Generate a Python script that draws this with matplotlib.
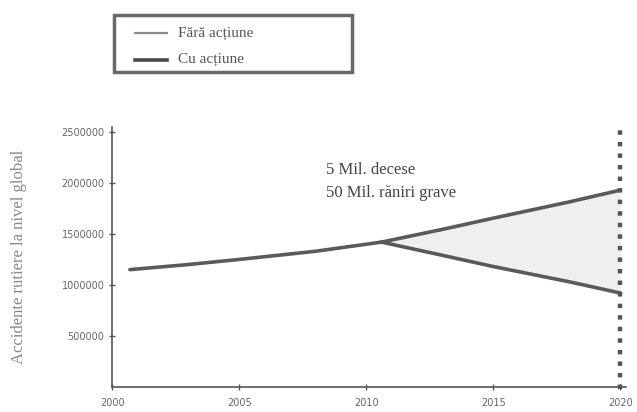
import matplotlib
matplotlib.use("Agg")
import matplotlib.pyplot as plt
from matplotlib.lines import Line2D
from matplotlib.patches import Rectangle

# accidente rutiere la nivel global
years_common = [2000.7, 2003, 2005, 2008, 2010.6]
vals_common = [1150000, 1200000, 1250000, 1330000, 1420000]

years_future = [2010.6, 2013, 2015, 2018, 2020]
vals_fara = [1420000, 1545000, 1655000, 1815000, 1930000]   # fara actiune
vals_cu = [1420000, 1290000, 1180000, 1030000, 920000]      # cu actiune

x_ticks = [2000, 2005, 2010, 2015, 2020]
y_ticks = [500000, 1000000, 1500000, 2000000, 2500000]

legend_labels = ["Fără acțiune", "Cu acțiune"]

line_col = "#5a5a5a"
serif = ["Liberation Serif", "DejaVu Serif"]

fig = plt.figure(figsize=(6.37, 4.12), dpi=100)
ax = fig.add_axes([0.176, 0.061, 0.806, 0.631])

ax.fill_between(years_future, vals_cu, vals_fara, color="#efefef", lw=0)
ax.plot(years_common, vals_common, color=line_col, lw=2.6, solid_capstyle="round")
ax.plot(years_future, vals_fara, color=line_col, lw=2.6, solid_capstyle="round")
ax.plot(years_future, vals_cu, color=line_col, lw=2.6, solid_capstyle="round")

# linia punctata la 2020
ax.axvline(2020, color="#555555", lw=3.2, ls=(0, (1, 1.6)), ymin=-0.01, ymax=1.0,
           clip_on=False)

ax.text(2008.4, 2090000, "5 Mil. decese", family=serif, fontsize=12,
        color="#444444")
ax.text(2008.4, 1860000, "50 Mil. răniri grave", family=serif, fontsize=12,
        color="#444444")

ax.set_xlim(2000, 2020.2)
ax.set_ylim(0, 2550000)
ax.set_xticks(x_ticks)
ax.set_yticks(y_ticks)
ax.set_xticklabels([str(t) for t in x_ticks])
ax.set_yticklabels([str(t) for t in y_ticks])
for s in ["top", "right"]:
    ax.spines[s].set_visible(False)
for s in ["left", "bottom"]:
    ax.spines[s].set_color("#555555")
    ax.spines[s].set_linewidth(1.2)
ax.tick_params(direction="inout", length=4, width=1, colors="#555555",
               labelcolor="#666666", labelsize=7)
ax.tick_params(axis="x", pad=6)
ax.set_ylabel("Accidente rutiere la nivel global", family=serif, fontsize=12,
              color="#888888", labelpad=8)
ax.yaxis.set_label_coords(-0.165, 0.5)

# legenda desenata in coordonatele figurii
fig.patches.append(Rectangle((0.179, 0.826), 0.374, 0.137, transform=fig.transFigure,
                             facecolor="white", edgecolor="#6a6a6a", lw=2.5))
fig.lines.append(Line2D([0.212, 0.262], [0.919, 0.919], transform=fig.transFigure,
                        color="#8a8a8a", lw=1.6))
fig.lines.append(Line2D([0.212, 0.262], [0.855, 0.855], transform=fig.transFigure,
                        color="#4a4a4a", lw=2.6))
fig.text(0.279, 0.919, legend_labels[0], family=serif, fontsize=11, color="#555555",
         va="center")
fig.text(0.279, 0.855, legend_labels[1], family=serif, fontsize=11, color="#555555",
         va="center")

fig.savefig("out.png", dpi=100)
